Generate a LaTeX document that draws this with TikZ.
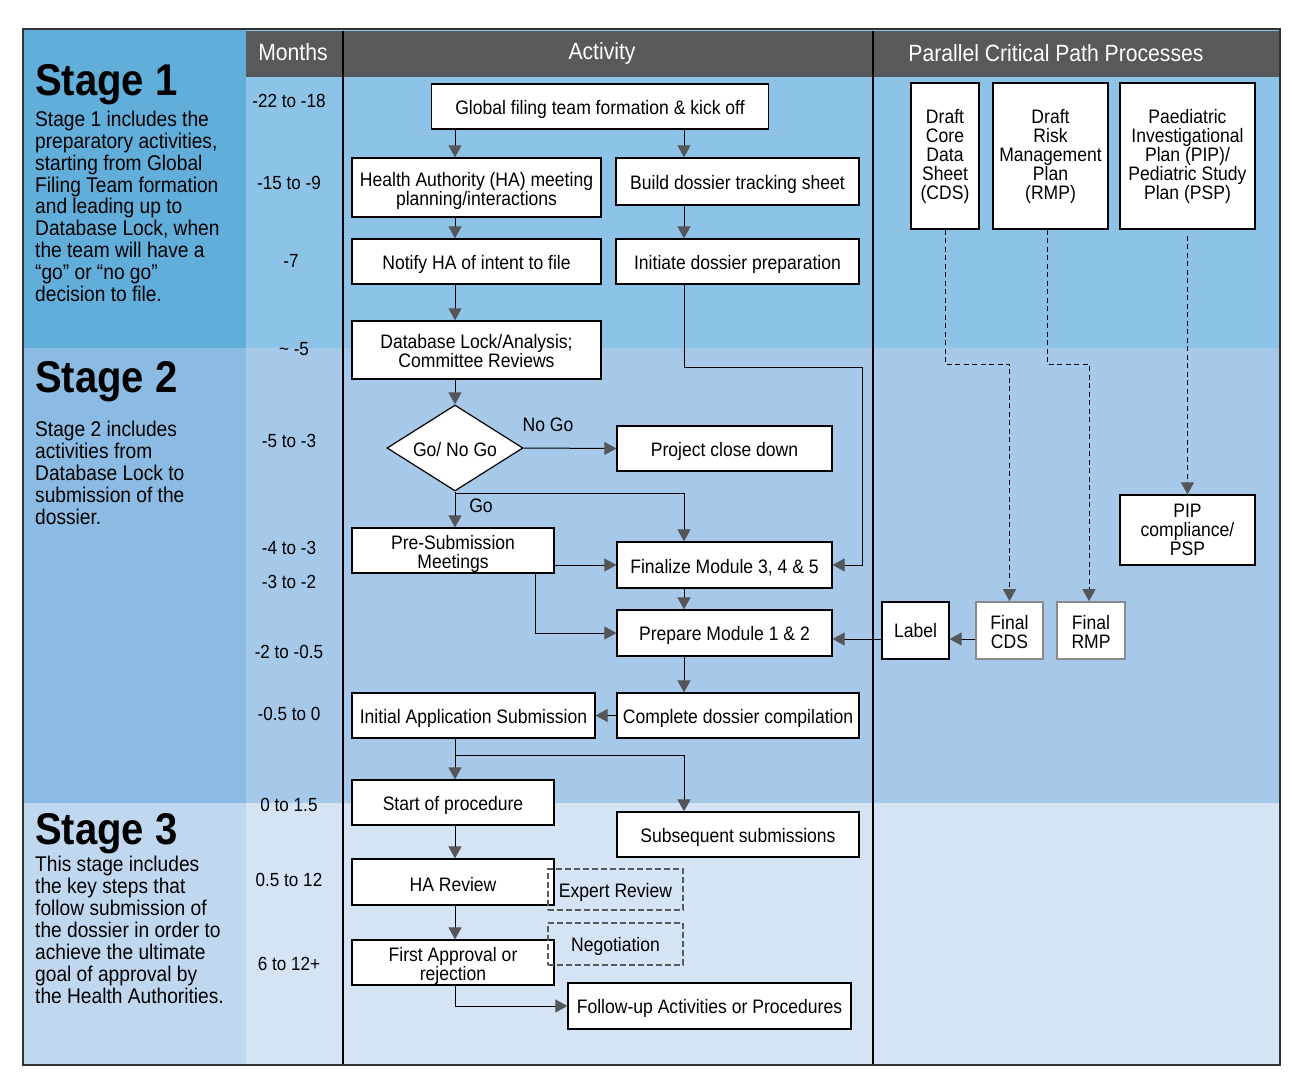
\documentclass[tikz,border=0pt]{standalone}
\usepackage{fontspec}
\setmainfont{Liberation Sans}[FakeStretch=0.9]
\usetikzlibrary{arrows.meta,shapes.geometric}
\definecolor{hdr}{HTML}{58595B}
\definecolor{arrgray}{HTML}{55565A}
\definecolor{sAl}{HTML}{62AEDB}
\definecolor{sAr}{HTML}{8CC3E6}
\definecolor{sBl}{HTML}{8BBBE2}
\definecolor{sBr}{HTML}{A6C9EA}
\definecolor{sCl}{HTML}{C0D8EF}
\definecolor{sCr}{HTML}{D4E4F4}
\definecolor{framec}{HTML}{333333}
\definecolor{fingray}{HTML}{8A8A8A}
\newcommand\boxfnt{\fontsize{19.5}{19}\selectfont}
\newcommand\monfnt{\fontsize{19}{20}\selectfont}
\newcommand\hdrfnt{\fontsize{23.5}{25}\selectfont}
\newcommand\stagefnt{\fontsize{44.5}{46}\selectfont\bfseries}
\newcommand\descfnt{\fontsize{21.3}{21.9}\selectfont}
\tikzset{
  pbox/.style={draw=black, line width=1.2pt, fill=white, inner sep=1pt, align=center, font=\boxfnt},
  abox/.style={pbox, execute at begin node={\rule{0pt}{19.8pt}}},
  twoline/.style={text height=36.5pt, text depth=0pt},
  fbox/.style={pbox, draw=fingray, line width=1.6pt, twoline},
  dbox/.style={draw=hdr, line width=1.8pt, dash pattern=on 6pt off 3pt, inner sep=1pt, align=center, font=\boxfnt, execute at begin node={\rule{0pt}{19.8pt}}},
  arr/.style={line width=1pt, -{Triangle[length=12pt, width=13pt, color=arrgray]}},
  darr/.style={arr, dash pattern=on 5pt off 3.5pt},
  lbl/.style={inner sep=0pt, font=\boxfnt},
  mon/.style={inner sep=0pt, font=\monfnt},
  hdrtxt/.style={inner sep=0pt, font=\hdrfnt, text=white},
  stitle/.style={anchor=base west, inner sep=0pt, font=\stagefnt},
  sdesc/.style={anchor=base west, inner sep=0pt, align=left, font=\descfnt}
}
\begin{document}
\begin{tikzpicture}[x=1pt,y=-1pt]
\useasboundingbox (0,0) rectangle (1299,1078);
% backgrounds
\fill[white] (0,0) rectangle (1299,1078);
\fill[sAl] (23,29) rectangle (246,348);
\fill[sAr] (246,29) rectangle (1280,348);
\fill[sBl] (23,348) rectangle (246,803);
\fill[sBr] (246,348) rectangle (1280,803);
\fill[sCl] (23,803) rectangle (246,1065);
\fill[sCr] (246,803) rectangle (1280,1065);
\fill[hdr] (246,31) rectangle (1280,77);
\draw[line width=1.3pt] (343,31) -- (343,1065);
\draw[line width=1.3pt] (873,31) -- (873,1065);
\draw[framec, line width=2.5pt] (23,29) rectangle (1280,1065);

% header
\node[hdrtxt] (hm) at (293,52.5) {Months};
\node[hdrtxt] (ha) at (602,53.5) {Activity};
\node[hdrtxt] (hp) at (1056,53) {Parallel Critical Path Processes};

% stages (multi-line text: base anchor = last line's baseline)
\node[stitle] (st1) at (35,96) {Stage 1};
\node[sdesc] (desc1) at (35,301.5) {Stage 1 includes the\\preparatory activities,\\starting from Global\\Filing Team formation\\and leading up to\\Database Lock, when\\the team will have a\\“go” or “no go”\\decision to file.};
\node[stitle] (st2) at (35,392) {Stage 2};
\node[sdesc] (desc2) at (35,524) {Stage 2 includes\\activities from\\Database Lock to\\submission of the\\dossier.};
\node[stitle] (st3) at (35,844) {Stage 3};
\node[sdesc] (desc3) at (35,1003.3) {This stage includes\\the key steps that\\follow submission of\\the dossier in order to\\achieve the ultimate\\goal of approval by\\the Health Authorities.};

% months
\node[mon] (m1) at (289,100.5) {-22 to -18};
\node[mon] (m2) at (289,182.5) {-15 to -9};
\node[mon] (m3) at (291,260.5) {-7};
\node[mon] (m4) at (294,349.5) {\textasciitilde\ -5};
\node[mon] (m5) at (289,440.5) {-5 to -3};
\node[mon] (m6) at (289,547.5) {-4 to -3};
\node[mon] (m7) at (289,581.5) {-3 to -2};
\node[mon] (m8) at (289,651.5) {-2 to -0.5};
\node[mon] (m9) at (289,713.5) {-0.5 to 0};
\node[mon] (m10) at (289,804.5) {0 to 1.5};
\node[mon] (m11) at (289,879.5) {0.5 to 12};
\node[mon] (m12) at (289,963.5) {6 to 12+};

% activity nodes
\node[abox, minimum width=337pt, minimum height=45pt] (gft) at (600,106.5) {Global filing team formation \& kick off};
\node[pbox, twoline, minimum width=249pt, minimum height=59pt] (ham) at (476.5,187.5) {Health Authority (HA) meeting\\planning/interactions};
\node[abox, minimum width=243pt, minimum height=47pt] (bdt) at (737.5,181.5) {Build dossier tracking sheet};
\node[abox, minimum width=249pt, minimum height=45pt] (nha) at (476.5,261.5) {Notify HA of intent to file};
\node[abox, minimum width=243pt, minimum height=45pt] (idp) at (737.5,261.5) {Initiate dossier preparation};
\node[pbox, twoline, text height=34.5pt, minimum width=249pt, minimum height=58pt] (dbl) at (476.5,350) {Database Lock/Analysis;\\Committee Reviews};
\node[diamond, shape aspect=1.58, draw=black, line width=1.2pt, fill=white, minimum width=136pt, minimum height=86pt, inner sep=0pt, font=\boxfnt, execute at begin node={\rule{0pt}{17.5pt}}] (dia) at (455,448) {Go/ No Go};
\node[abox, minimum width=215pt, minimum height=45pt] (pcd) at (724.5,448.5) {Project close down};
\node[pbox, twoline, minimum width=202pt, minimum height=45pt] (psm) at (453,550.5) {Pre-Submission\\Meetings};
\node[abox, minimum width=215pt, minimum height=46pt] (fm) at (724.5,565) {Finalize Module 3, 4 \& 5};
\node[abox, minimum width=215pt, minimum height=46pt] (pm) at (724.5,633) {Prepare Module 1 \& 2};
\node[abox, minimum width=243pt, minimum height=45pt] (ias) at (473.5,715.5) {Initial Application Submission};
\node[abox, minimum width=242pt, minimum height=45pt] (cdc) at (738,715.5) {Complete dossier compilation};
\node[abox, minimum width=202pt, minimum height=45pt] (sop) at (453,802.5) {Start of procedure};
\node[abox, minimum width=242pt, minimum height=45pt] (ssb) at (738,834.5) {Subsequent submissions};
\node[abox, minimum width=202pt, minimum height=46pt] (har) at (453,882) {HA Review};
\node[pbox, twoline, minimum width=202pt, minimum height=45pt] (fa) at (453,962.5) {First Approval or\\rejection};
\node[abox, minimum width=283pt, minimum height=46pt] (fu) at (709.5,1006) {Follow-up Activities or Procedures};
\node[dbox, minimum width=135pt, minimum height=41pt] (exr) at (615.5,889.5) {Expert Review};
\node[dbox, minimum width=135pt, minimum height=42pt] (neg) at (615.5,944) {Negotiation};

\node[lbl] (nogo) at (548,425) {No Go};
\node[lbl] (golbl) at (481,506) {Go};

% parallel nodes
\node[pbox, minimum width=68pt, minimum height=146pt] (cds) at (945,156) {Draft\\Core\\Data\\Sheet\\(CDS)};
\node[pbox, minimum width=115pt, minimum height=146pt] (rmp) at (1050.5,156) {Draft\\Risk\\Management\\Plan\\(RMP)};
\node[pbox, minimum width=135pt, minimum height=146pt] (pip) at (1187.5,156) {Paediatric\\Investigational\\Plan (PIP)/\\Pediatric Study\\Plan (PSP)};
\node[pbox, minimum width=135pt, minimum height=70pt] (pipc) at (1187.5,530) {PIP\\compliance/\\PSP};
\node[pbox, minimum width=67pt, minimum height=57pt] (lab) at (915.5,630.5) {Label};
\node[fbox, minimum width=67pt, minimum height=57pt] (fcds) at (1009.5,630.5) {Final\\CDS};
\node[fbox, minimum width=68pt, minimum height=57pt] (frmp) at (1091,630.5) {Final\\RMP};

% helper coordinates
\coordinate (cA) at (455,0);
\coordinate (cB) at (684,0);
\coordinate (r1) at (862,367);
\coordinate (g1) at (684,493);
\coordinate (p1) at (535,0);
\coordinate (h1) at (0,639);
\coordinate (g2) at (684,755);
\coordinate (dy) at (0,364);
\coordinate (dx2) at (1047,364);
\coordinate (dx3) at (1089,364);

% connectors
\draw[arr] (gft.south -| cA) -- (ham.north -| cA);
\draw[arr] (gft.south -| cB) -- (bdt.north -| cB);
\draw[arr] (ham.south -| cA) -- (nha.north -| cA);
\draw[arr] (bdt.south -| cB) -- (idp.north -| cB);
\draw[arr] (nha.south -| cA) -- (dbl.north -| cA);
\draw[arr] (idp.south -| cB) -- (cB |- r1) -- (r1) -- (r1 |- fm.east) -- (fm.east);
\draw[arr] (dbl.south -| cA) -- (dia.north);
\draw[arr] (dia.east) -- (pcd.west);
\draw[arr] (dia.south) -- (psm.north -| dia.south);
\draw[arr] (dia.south) |- (g1) -- (fm.north -| g1);
\draw[arr] (psm.east |- fm.west) -- (fm.west);
\draw[arr] (psm.south -| p1) |- (pm.west);
\draw[arr] (fm.south -| cB) -- (pm.north -| cB);
\draw[arr] (lab.west |- h1) -- (pm.east |- h1);
\draw[arr] (fcds.west |- h1) -- (lab.east |- h1);
\draw[arr] (pm.south -| cB) -- (cdc.north -| cB);
\draw[arr] (cdc.west) -- (ias.east);
\draw[arr] (ias.south -| cA) -- (sop.north -| cA);
\draw[arr] (ias.south -| cA) |- (g2) -- (ssb.north -| g2);
\draw[arr] (sop.south -| cA) -- (har.north -| cA);
\draw[arr] (har.south -| cA) -- (fa.north -| cA);
\draw[arr] (fa.south -| cA) |- (fu.west);
\draw[darr] (cds.south) |- (fcds.north |- dy) -- (fcds.north);
\draw[darr] (rmp.south -| dx2) -- (dx2) -- (dx3) -- (frmp.north -| dx3);
\draw[darr, shorten <=6pt] (pip.south) -- (pipc.north);
\end{tikzpicture}
\end{document}
